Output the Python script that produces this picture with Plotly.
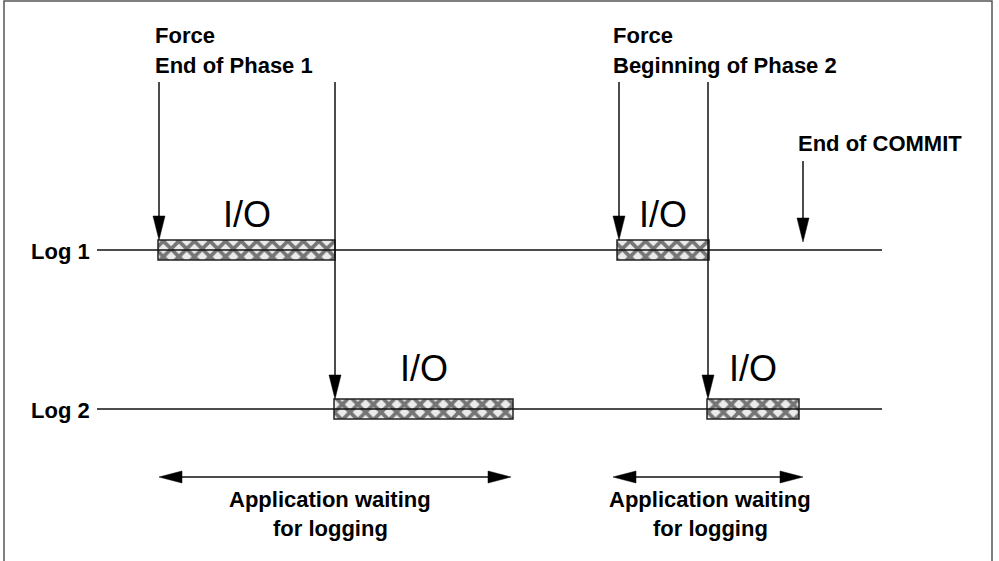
import plotly.graph_objects as go

# ---- data (time units along the x axis) ----
log_names = ["Log 1", "Log 2"]
log1_io_start = [158, 617]
log1_io_end = [335, 709]
log2_io_start = [334, 707]
log2_io_end = [513, 799]
timeline_start = 97
timeline_end = 882
force_phase1 = 159
force_phase2 = 619
end_commit = 803
wait_start = [159, 613]
wait_end = [511, 803]

# ---- layout constants (pixel-like y coordinates) ----
W, H = 999, 561
ROW_Y = [250, 409]
BOX_H = 20
ARROW_TOP = 82
HEAD_L, HEAD_W = 24, 12
LINE_C = "#111111"
BOLD = dict(family="Liberation Sans, Arial, sans-serif", size=22, color="black")
IO_FONT = dict(family="Liberation Sans, Arial, sans-serif", size=36, color="black")

fig = go.Figure()

# timelines
for yy in ROW_Y:
    fig.add_trace(go.Scatter(x=[timeline_start, timeline_end], y=[yy, yy], mode="lines",
                             line=dict(color=LINE_C, width=1.5), hoverinfo="skip", showlegend=False))

# I/O boxes
starts = log1_io_start + log2_io_start
ends = log1_io_end + log2_io_end
rows = [ROW_Y[0]] * len(log1_io_start) + [ROW_Y[1]] * len(log2_io_start)
fig.add_trace(go.Bar(
    orientation="h", y=rows, base=starts, x=[e - s for s, e in zip(starts, ends)],
    width=BOX_H,
    marker=dict(color="#ebebeb", line=dict(color="#222222", width=1.5),
                pattern=dict(shape="x", fgcolor="#000000", bgcolor="#ebebeb", size=11, solidity=0.55)),
    hoverinfo="skip", showlegend=False))

shapes = []


def v_arrow(x, y0, y1):
    fig.add_trace(go.Scatter(x=[x, x], y=[y0, y1 - HEAD_L + 2], mode="lines",
                             line=dict(color=LINE_C, width=1.5), hoverinfo="skip", showlegend=False))
    shapes.append(dict(type="path", xref="x", yref="y",
                       path=f"M {x - HEAD_W / 2},{y1 - HEAD_L} L {x + HEAD_W / 2},{y1 - HEAD_L} L {x},{y1} Z",
                       fillcolor="black", line=dict(color="black", width=0.5)))


def h_double_arrow(x0, x1, y):
    fig.add_trace(go.Scatter(x=[x0 + 20, x1 - 20], y=[y, y], mode="lines",
                             line=dict(color=LINE_C, width=1.5), hoverinfo="skip", showlegend=False))
    for tip, d in ((x0, 1), (x1, -1)):
        shapes.append(dict(type="path", xref="x", yref="y",
                           path=f"M {tip},{y} L {tip + d * 23},{y - 6} L {tip + d * 23},{y + 6} Z",
                           fillcolor="black", line=dict(color="black", width=0.5)))


# Force arrows
v_arrow(force_phase1, ARROW_TOP, ROW_Y[0] - BOX_H / 2)
v_arrow(log1_io_end[0], ARROW_TOP, ROW_Y[1] - BOX_H / 2)
v_arrow(force_phase2, ARROW_TOP, ROW_Y[0] - BOX_H / 2)
v_arrow(log1_io_end[1] - 1, ARROW_TOP, ROW_Y[1] - BOX_H / 2)
v_arrow(end_commit, 161, 242)

# waiting arrows
for s, e in zip(wait_start, wait_end):
    h_double_arrow(s, e, 477)

# border
shapes.append(dict(type="rect", xref="x", yref="y", x0=4, x1=992, y0=1, y1=H + 5,
                   line=dict(color="#555555", width=1.5), fillcolor="rgba(0,0,0,0)", layer="below"))

ann = []


def text(x, y, t, anchor="left", font=BOLD):
    ann.append(dict(x=x, y=y, xref="x", yref="y", text=t, showarrow=False,
                    xanchor=anchor, yanchor="middle", font=font))


text(153, 35, "<b>Force</b>")
text(153, 65, "<b>End of Phase 1</b>")
text(611, 35, "<b>Force</b>")
text(611, 65, "<b>Beginning of Phase 2</b>")
text(796, 143, "<b>End of COMMIT</b>")
for name, yy in zip(log_names, ROW_Y):
    text(92, yy + 1, f"<b>{name}</b>", anchor="right")

# I/O labels centred on boxes
for s, e, yy in zip(starts, ends, rows):
    text((s + e) / 2, yy - 36 if yy == ROW_Y[0] else yy - 41, "I/O", anchor="center", font=IO_FONT)

for s, e in zip(wait_start, wait_end):
    c = (s + e) / 2 - (5 if s < 300 else -2)
    text(c, 499, "<b>Application waiting</b>", anchor="center")
    text(c, 528, "<b>for logging</b>", anchor="center")

fig.update_layout(
    width=W, height=H, margin=dict(l=0, r=0, t=0, b=0),
    paper_bgcolor="white", plot_bgcolor="white",
    xaxis=dict(range=[0, W], visible=False, fixedrange=True),
    yaxis=dict(range=[H, 0], visible=False, fixedrange=True),
    barmode="overlay", shapes=shapes, annotations=ann, showlegend=False,
)

fig.write_html("out.html", config={"displayModeBar": False},
               post_script="document.body.style.margin='0';document.body.style.overflow='hidden';")
